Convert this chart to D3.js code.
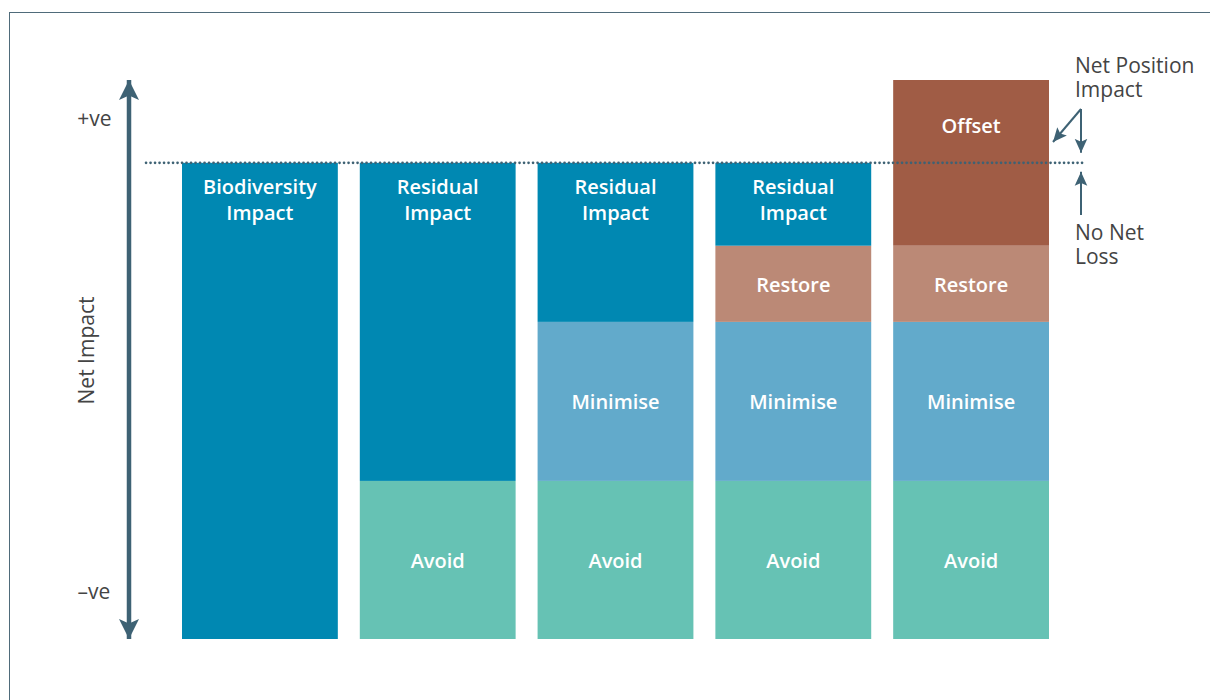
<!DOCTYPE html>
<html>
<head>
<meta charset="utf-8">
<script src="https://d3js.org/d3.v7.min.js"></script>
<style>
  body { margin: 0; background: #fff; }
  svg text { font-family: "Open Sans", sans-serif; }
</style>
</head>
<body>
<div id="chart"></div>
<script>
// bars (left to right)
var scenarios = ["impact", "avoid", "minimise", "restore", "offset"];

// stacked layers, bottom to top
var layerNames = ["Avoid", "Minimise", "Restore", "Residual", "Offset"];
var avoidVals    = [0, 33.2, 33.2, 33.2, 33.2];
var minimiseVals = [0, 0, 33.4, 33.4, 33.4];
var restoreVals  = [0, 0, 0, 16, 16];
var residualVals = [100, 66.8, 33.4, 17.4, 0];
var offsetVals   = [0, 0, 0, 0, 34.8];

var residualLabels = ["Biodiversity\nImpact", "Residual\nImpact", "Residual\nImpact", "Residual\nImpact", ""];

var noNetLoss = 100;
var axisMax = 117.4;

var colors = {
  Avoid: "#66c2b4",
  Minimise: "#62aacb",
  Restore: "#bb8976",
  Residual: "#0088b2",
  Offset: "#a05c45"
};
var ink = "#3e6274";

var W = 1210, H = 700;
var svg = d3.select("#chart").append("svg")
  .attr("width", W).attr("height", H);

// frame
svg.append("rect")
  .attr("x", 9.5).attr("y", 12.5)
  .attr("width", 1300).attr("height", 800)
  .attr("fill", "none").attr("stroke", "#4f6b7a").attr("stroke-width", 1);

var x = d3.scaleBand()
  .domain(scenarios)
  .range([182, 1049])
  .paddingInner(22 / 178)
  .paddingOuter(0);

var y = d3.scaleLinear()
  .domain([0, axisMax])
  .range([639, 80]);

// build table for the stack
var table = scenarios.map(function(s, i) {
  return {
    key: s,
    Avoid: avoidVals[i],
    Minimise: minimiseVals[i],
    Restore: restoreVals[i],
    Residual: residualVals[i],
    Offset: offsetVals[i],
    residualLabel: residualLabels[i]
  };
});

var series = d3.stack().keys(layerNames)(table);

var defs = svg.append("defs");
defs.append("marker")
  .attr("id", "head")
  .attr("viewBox", "0 0 10 10")
  .attr("refX", 10).attr("refY", 5)
  .attr("markerUnits", "userSpaceOnUse")
  .attr("markerWidth", 20).attr("markerHeight", 20)
  .attr("orient", "auto-start-reverse")
  .append("path")
  .attr("d", "M0,0 L10,5 L0,10 L2.2,5 Z")
  .attr("fill", ink);

defs.append("marker")
  .attr("id", "headSmall")
  .attr("viewBox", "0 0 10 10")
  .attr("refX", 10).attr("refY", 5)
  .attr("markerUnits", "userSpaceOnUse")
  .attr("markerWidth", 14).attr("markerHeight", 14)
  .attr("orient", "auto")
  .append("path")
  .attr("d", "M0,0.5 L10,5 L0,9.5 L2,5 Z")
  .attr("fill", ink);

// segments
var layers = svg.append("g").selectAll("g")
  .data(series)
  .enter().append("g")
  .attr("fill", function(d) { return colors[d.key]; });

layers.selectAll("rect")
  .data(function(d) { return d.filter(function(p) { return p[1] - p[0] > 0; }); })
  .enter().append("rect")
  .attr("x", function(d) { return x(d.data.key); })
  .attr("width", x.bandwidth())
  .attr("y", function(d) { return y(d[1]); })
  .attr("height", function(d) { return y(d[0]) - y(d[1]); });

// segment labels
var labelG = svg.append("g")
  .attr("fill", "#fff")
  .attr("font-size", 20)
  .attr("font-weight", 600)
  .attr("text-anchor", "middle");

series.forEach(function(s) {
  s.forEach(function(p) {
    if (p[1] - p[0] <= 0) return;
    var cx = x(p.data.key) + x.bandwidth() / 2;
    var txt, ty;
    if (s.key === "Residual") {
      txt = p.data.residualLabel;
      ty = y(p[1]) + 31;
    } else if (s.key === "Offset") {
      txt = "Offset";
      ty = y(p[1]) + 53;
    } else {
      txt = s.key;
      ty = (y(p[0]) + y(p[1])) / 2 + 8;
    }
    var t = labelG.append("text").attr("x", cx).attr("y", ty);
    txt.split("\n").forEach(function(line, k) {
      t.append("tspan").attr("x", cx).attr("dy", k === 0 ? 0 : 26).text(line);
    });
  });
});

// no net loss dotted line
svg.append("line")
  .attr("x1", 146).attr("x2", 1086)
  .attr("y1", y(noNetLoss)).attr("y2", y(noNetLoss))
  .attr("stroke", ink).attr("stroke-width", 2.6)
  .attr("stroke-linecap", "round")
  .attr("stroke-dasharray", "0.1 4.4");

// vertical double arrow axis
svg.append("line")
  .attr("x1", 129).attr("x2", 129)
  .attr("y1", y(0)).attr("y2", y(axisMax))
  .attr("stroke", ink).attr("stroke-width", 4.5)
  .attr("marker-start", "url(#head)")
  .attr("marker-end", "url(#head)");

var axisText = svg.append("g")
  .attr("fill", "#444")
  .attr("font-size", 21)
  .attr("font-weight", 400);
axisText.append("text").attr("x", 94.5).attr("y", y(axisMax) + 46)
  .attr("text-anchor", "middle").text("+ve");
axisText.append("text").attr("x", 94).attr("y", y(0) - 40)
  .attr("text-anchor", "middle").text("\u2013ve");
axisText.append("text")
  .attr("transform", "translate(94," + (y(axisMax / 2) - 9) + ") rotate(-90)")
  .attr("text-anchor", "middle").text("Net Impact");

// right-hand annotations
var ax = 1081;
var note = svg.append("g").attr("fill", "#444").attr("font-size", 21).attr("font-weight", 400);
note.append("text").attr("x", 1075).attr("y", 73).text("Net Position");
note.append("text").attr("x", 1075).attr("y", 97).text("Impact");
note.append("text").attr("x", 1075).attr("y", 240).text("No Net");
note.append("text").attr("x", 1075).attr("y", 264).text("Loss");

var ann = svg.append("g").attr("stroke", ink).attr("stroke-width", 2).attr("fill", "none");
ann.append("line")
  .attr("x1", ax).attr("y1", 109).attr("x2", ax).attr("y2", y(noNetLoss) - 10)
  .attr("marker-end", "url(#headSmall)");
ann.append("line")
  .attr("x1", ax).attr("y1", 109).attr("x2", 1053).attr("y2", 142)
  .attr("marker-end", "url(#headSmall)");
ann.append("line")
  .attr("x1", ax).attr("y1", 215).attr("x2", ax).attr("y2", y(noNetLoss) + 9)
  .attr("marker-end", "url(#headSmall)");
</script>
</body>
</html>
